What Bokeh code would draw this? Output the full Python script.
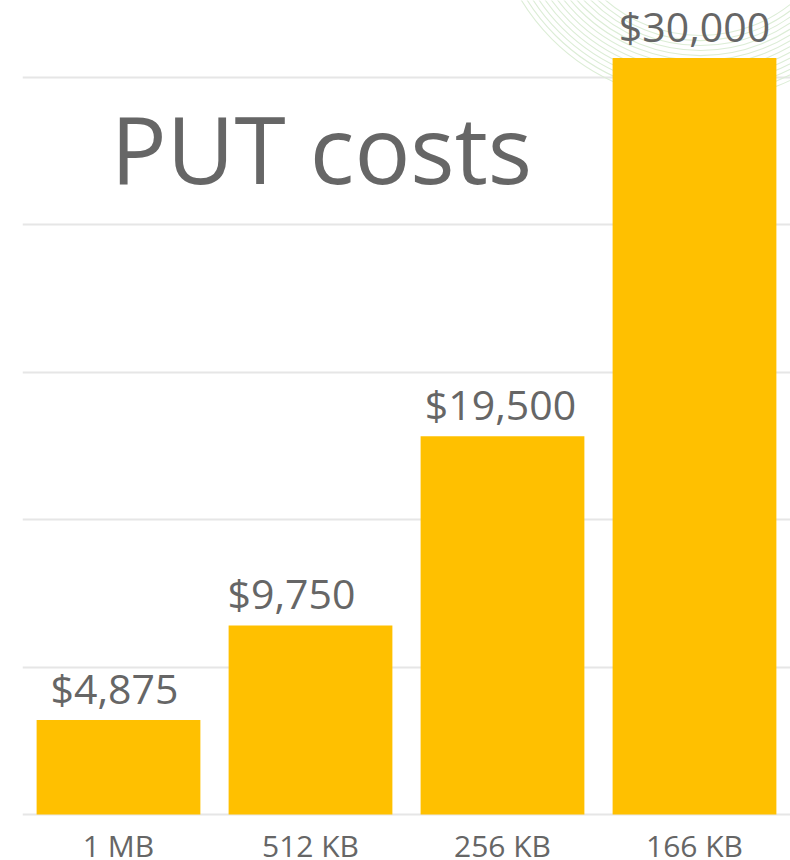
import math
from bokeh.plotting import figure
from bokeh.models import ColumnDataSource, FixedTicker, Range1d
from bokeh.core.properties import value
from bokeh.embed import file_html
from bokeh.resources import INLINE

# ---- data ----
categories = ["1 MB", "512 KB", "256 KB", "166 KB"]
costs = [4875, 9750, 19500, 30000]            # printed values
bar_lengths = [4875, 9750, 19500, 39000]       # drawn bar lengths (as pictured)
grid_values = [0, 7600, 15200, 22800, 30400, 38000]
title_text = "PUT costs"

# ---- styles ----
BAR_COLOR = "#FFC000"
TEXT_COLOR = "#666666"
GRID_COLOR = "#E6E6E6"
FONT = "Open Sans"
label_x_offsets = [-4, -19, -2, 0]

x_pos = [i + 0.5 for i in range(len(categories))]
cost_labels = ["$" + format(c, ",") for c in costs]

src = ColumnDataSource(dict(x=x_pos, top=bar_lengths, cat=categories,
                            lab=cost_labels, dx=label_x_offsets))

p = figure(width=790, height=860, output_backend="svg", toolbar_location=None,
           x_range=Range1d(0, 4), y_range=Range1d(-2372, 41970),
           min_border_left=22, min_border_right=0, min_border_top=0,
           min_border_bottom=0)
p.xaxis.visible = False
p.yaxis.visible = False
p.xgrid.visible = False
p.ygrid.ticker = FixedTicker(ticks=grid_values)
p.ygrid.grid_line_color = GRID_COLOR
p.ygrid.grid_line_width = 2
p.outline_line_color = None
p.background_fill_color = "white"
p.border_fill_color = "white"

# faint decorative arcs (background ornament, top right)
for r in range(145, 212, 5):
    p.arc(x=3.531, y=47640, radius=r, radius_units="screen",
          start_angle=math.pi, end_angle=2 * math.pi,
          line_color="#DCEDD6", line_width=1.1)

p.vbar(x="x", top="top", width=0.853, bottom=0, source=src,
       fill_color=BAR_COLOR, line_color=None)

p.text(x="x", y="top", text="lab", source=src, x_offset="dx", y_offset=-32,
       text_align="center", text_baseline="alphabetic",
       text_font=value(FONT), text_font_size="41px", text_color=TEXT_COLOR)

p.text(x="x", y=0, text="cat", source=src, y_offset=31,
       text_align="center", text_baseline="alphabetic",
       text_font=value(FONT), text_font_size="30px", text_color=TEXT_COLOR)

p.text(x=[1.557], y=[34350], text=[title_text],
       text_align="center", text_baseline="alphabetic",
       text_font=value(FONT), text_font_size="93px", text_color=TEXT_COLOR)

open("out.html", "w").write(file_html(p, INLINE))
